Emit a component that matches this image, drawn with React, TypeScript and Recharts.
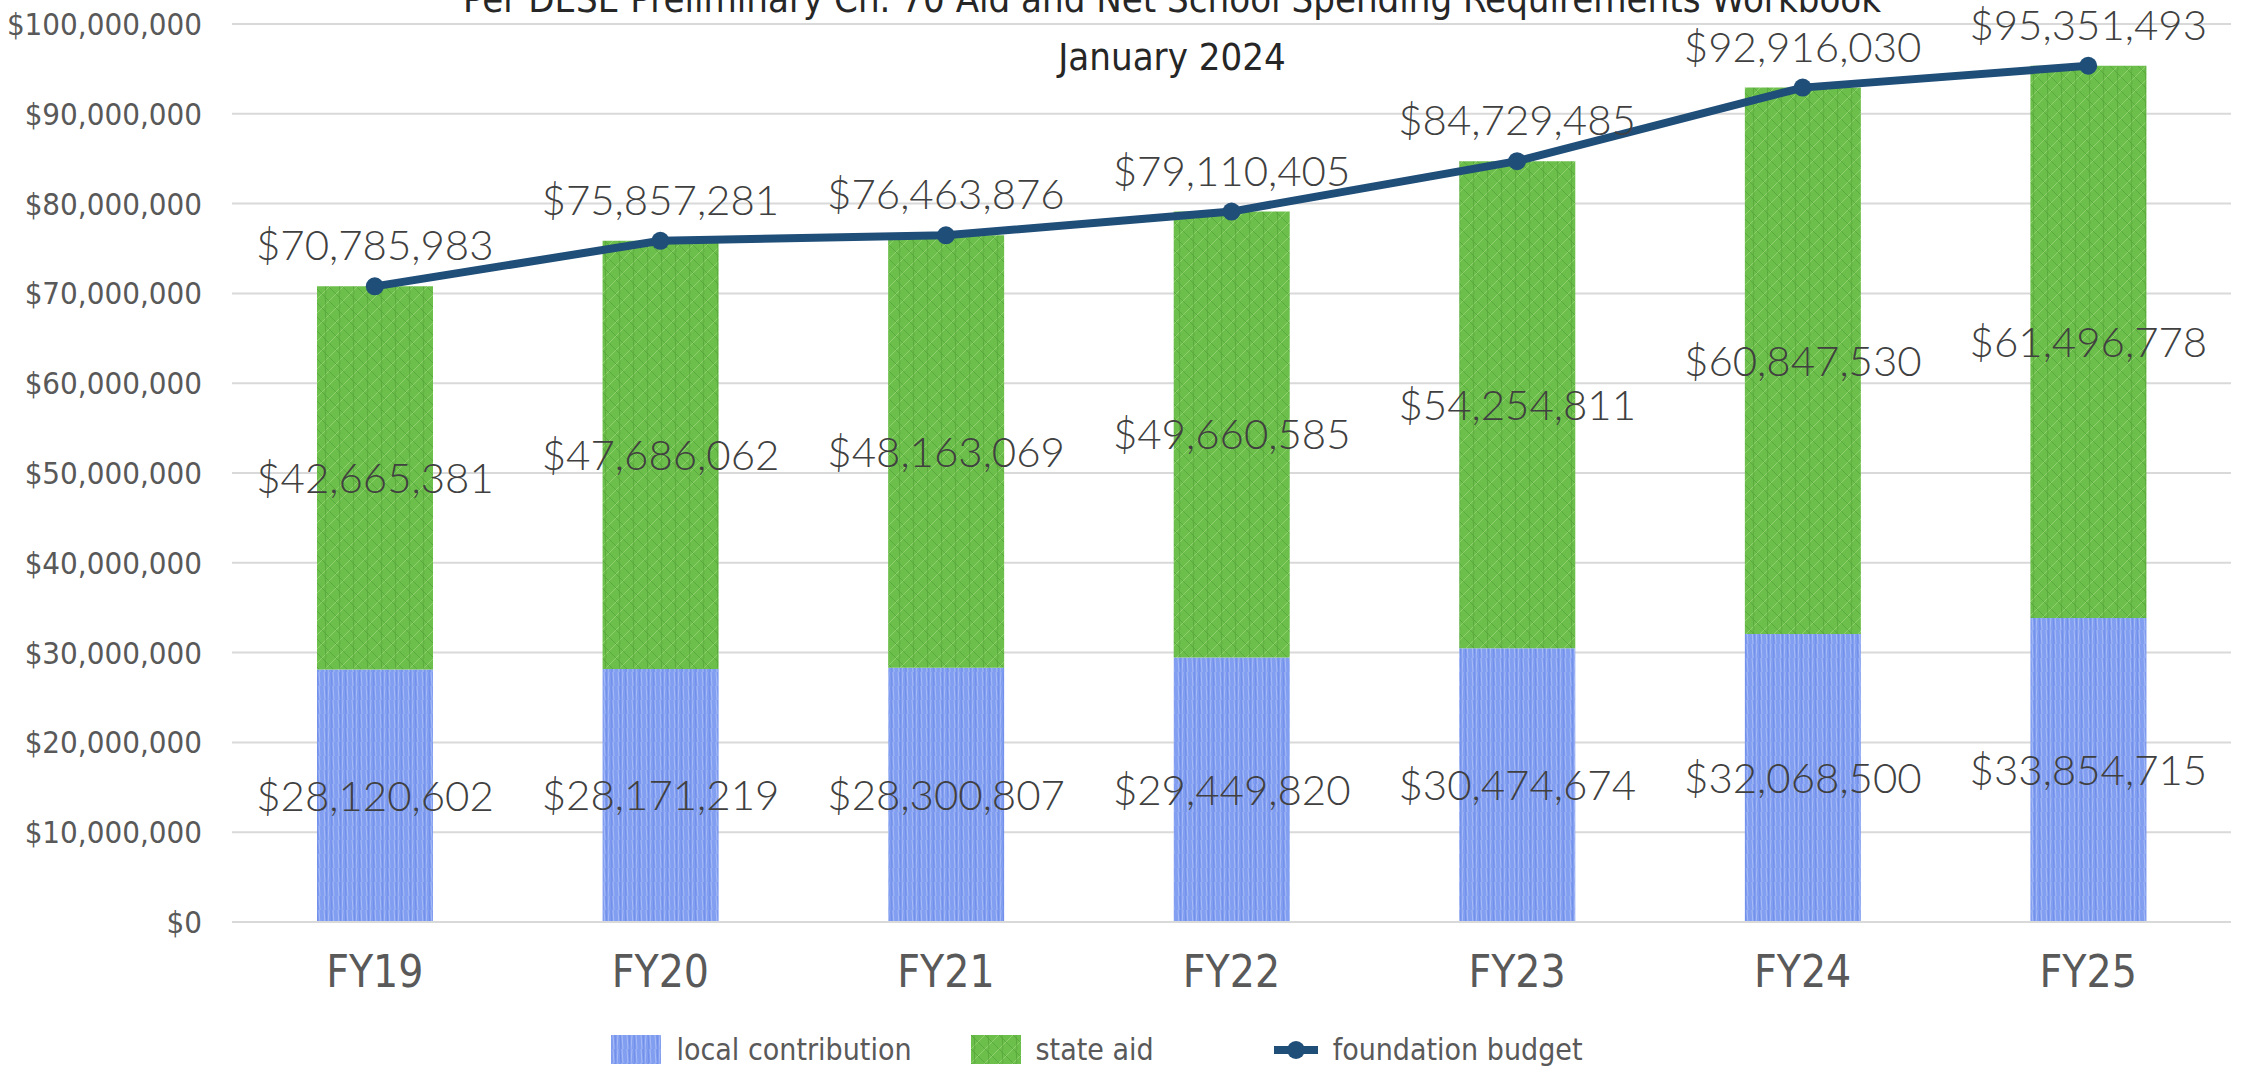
import {
  ComposedChart,
  Bar,
  Line,
  XAxis,
  YAxis,
  CartesianGrid,
  LabelList,
} from 'recharts';

const years = ['FY19', 'FY20', 'FY21', 'FY22', 'FY23', 'FY24', 'FY25'];
const localContribution = [28120602, 28171219, 28300807, 29449820, 30474674, 32068500, 33854715];
const stateAid = [42665381, 47686062, 48163069, 49660585, 54254811, 60847530, 61496778];
const foundationBudget = [70785983, 75857281, 76463876, 79110405, 84729485, 92916030, 95351493];
const yTicks = [0, 10000000, 20000000, 30000000, 40000000, 50000000, 60000000, 70000000, 80000000, 90000000, 100000000];

const titleLines = [
  'Per DESE Preliminary Ch. 70 Aid and Net School Spending Requirements Workbook',
  'January 2024',
];

const NARROW = '"Liberation Sans Narrow", "DejaVu Sans Condensed", "Roboto Condensed", sans-serif';
const LABEL_FONT = 'Lato, "Open Sans", "Noto Sans", sans-serif';
const LINE_COLOR = '#1f4e79';

const money = (v: any) => `$${Number(v).toLocaleString('en-US')}`;

const data = years.map((year, i) => ({
  year,
  local: localContribution[i],
  state: stateAid[i],
  foundation: foundationBudget[i],
}));

// pencil-ish textures for the bars
function Patterns() {
  return (
    <svg width={0} height={0} style={{ position: 'absolute' }}>
      <defs>
        <pattern id="bluePencil" width={14} height={14} patternUnits="userSpaceOnUse">
          <rect width={14} height={14} fill="#819ef0" />
          <path d="M2 0 L3 14 M7 0 L6 14 M11 0 L12 14" stroke="#a8bcf6" strokeWidth={1} />
          <path d="M4 0 L5 14 M9 0 L10 14" stroke="#6b89e8" strokeWidth={0.8} />
        </pattern>
        <pattern id="greenPencil" width={14} height={14} patternUnits="userSpaceOnUse">
          <rect width={14} height={14} fill="#6dbf4b" />
          <path d="M0 14 L14 0 M-4 4 L4 -4 M10 18 L18 10" stroke="#8fd26d" strokeWidth={1} />
          <path d="M0 0 L14 14 M3 0 L4 14" stroke="#51a236" strokeWidth={0.7} />
        </pattern>
      </defs>
    </svg>
  );
}

function Swatch({ fill }: { fill: string }) {
  return (
    <svg width={50} height={29}>
      <rect width={50} height={29} fill={fill} />
    </svg>
  );
}

export default function App() {
  const labelStyle = { fill: '#404040', fontSize: 42, fontFamily: LABEL_FONT, fontWeight: 300 };

  return (
    <div style={{ position: 'absolute', left: 0, top: 0, width: 2242, height: 1068, background: '#fff' }}>
      <Patterns />
      <ComposedChart
        width={2242}
        height={1068}
        data={data}
        margin={{ top: 24, right: 11, left: 0, bottom: 86 }}
      >
        <CartesianGrid vertical={false} stroke="#d9d9d9" strokeWidth={2} />
        <XAxis
          dataKey="year"
          height={60}
          tickLine={false}
          tickSize={0}
          tickMargin={34}
          axisLine={{ stroke: '#d9d9d9', strokeWidth: 2 }}
          tick={{ fill: '#595959', fontSize: 44, fontFamily: NARROW }}
        />
        <YAxis
          width={232}
          domain={[0, 100000000]}
          ticks={yTicks}
          tickFormatter={money}
          tickLine={false}
          axisLine={false}
          tickSize={0}
          tickMargin={30}
          tick={{ fill: '#595959', fontSize: 31, fontFamily: NARROW }}
        />
        <Bar dataKey="local" stackId="a" barSize={116} fill="url(#bluePencil)" isAnimationActive={false}>
          <LabelList dataKey="local" position="center" formatter={money} style={labelStyle} />
        </Bar>
        <Bar dataKey="state" stackId="a" barSize={116} fill="url(#greenPencil)" isAnimationActive={false}>
          <LabelList dataKey="state" position="center" formatter={money} style={labelStyle} />
        </Bar>
        <Line
          type="linear"
          dataKey="foundation"
          stroke={LINE_COLOR}
          strokeWidth={8}
          dot={{ r: 9, fill: LINE_COLOR, stroke: LINE_COLOR, strokeWidth: 0 }}
          activeDot={false}
          isAnimationActive={false}
        >
          <LabelList dataKey="foundation" position="top" offset={26} formatter={money} style={labelStyle} />
        </Line>
      </ComposedChart>

      {/* title, partly cut off at the top like the original */}
      <svg width={2242} height={100} style={{ position: 'absolute', left: 0, top: 0, pointerEvents: 'none' }}>
        {titleLines.map((t, i) => (
          <text
            key={t}
            x={1172}
            y={12 + i * 58}
            textAnchor="middle"
            fontSize={38}
            fontFamily={NARROW}
            fill="#262626"
          >
            {t}
          </text>
        ))}
      </svg>

      {/* Legend */}
      <div
        style={{
          position: 'absolute',
          left: 0,
          top: 1032,
          width: 2194,
          display: 'flex',
          justifyContent: 'center',
          alignItems: 'center',
          fontFamily: NARROW,
          fontSize: 30,
          color: '#595959',
        }}
      >
        <Swatch fill="url(#bluePencil)" />
        <span style={{ marginLeft: 15, marginRight: 59 }}>local contribution</span>
        <Swatch fill="url(#greenPencil)" />
        <span style={{ marginLeft: 15, marginRight: 120 }}>state aid</span>
        <svg width={44} height={24}>
          <line x1={0} y1={12} x2={44} y2={12} stroke={LINE_COLOR} strokeWidth={8} strokeLinecap="round" />
          <circle cx={22} cy={12} r={9} fill={LINE_COLOR} />
        </svg>
        <span style={{ marginLeft: 15 }}>foundation budget</span>
      </div>
    </div>
  );
}
